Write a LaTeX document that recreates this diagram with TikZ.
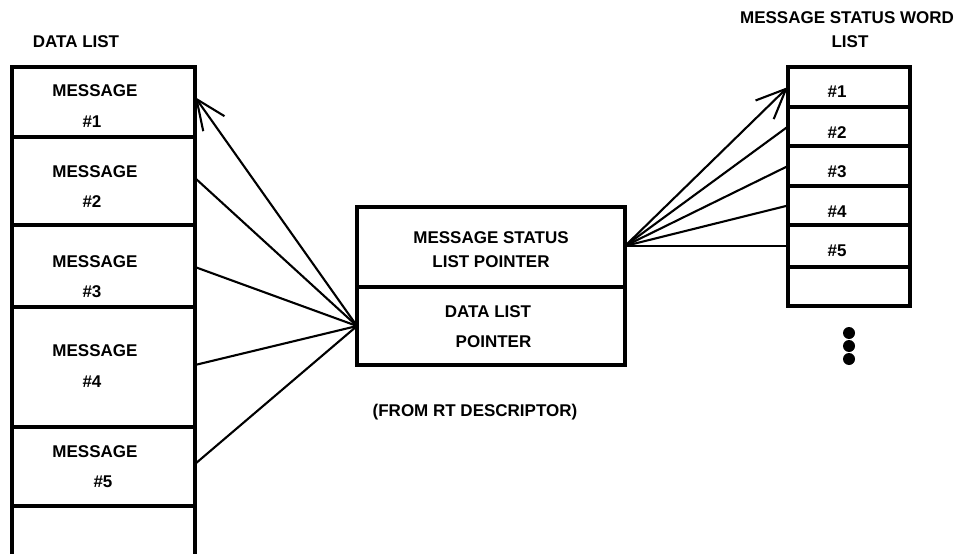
\documentclass[tikz,border=0pt]{standalone}
\usepackage{fontspec}
\setmainfont{Liberation Sans}
\usetikzlibrary{arrows.meta}
\begin{document}
\begin{tikzpicture}[x=1pt,y=-1pt,
  cell/.style={draw,line width=3.3pt,rectangle,inner sep=0pt,outer sep=0pt},
  lbl/.style={font=\fontsize{17}{20}\selectfont\bfseries,inner sep=0pt},
  conn/.style={line width=2.1pt},
  arr/.style={conn,-{Straight Barb[length=30pt,width=26pt]}},
  dot/.style={circle,fill=black,inner sep=0pt,minimum size=12pt}]
\useasboundingbox (0,0) rectangle (959,554);
\clip (0,0) rectangle (959,554);
% left data list
\node[lbl] (dltitle) at (76,42) {DATA LIST};
\node[cell,minimum width=183pt,minimum height=70pt] (c1) at (103.5,102) {};
\node[cell,minimum width=183pt,minimum height=88pt] (c2) at (103.5,181) {};
\node[cell,minimum width=183pt,minimum height=82pt] (c3) at (103.5,266) {};
\node[cell,minimum width=183pt,minimum height=120pt] (c4) at (103.5,367) {};
\node[cell,minimum width=183pt,minimum height=79pt] (c5) at (103.5,466.5) {};
\node[cell,minimum width=183pt,minimum height=64pt] (c6) at (103.5,538) {};
\node[lbl] (l1a) at (95,91) {MESSAGE};
\node[lbl] (l1b) at (92,122) {\#1};
\node[lbl] (l2a) at (95,172) {MESSAGE};
\node[lbl] (l2b) at (92,202) {\#2};
\node[lbl] (l3a) at (95,262) {MESSAGE};
\node[lbl] (l3b) at (92,292) {\#3};
\node[lbl] (l4a) at (95,351) {MESSAGE};
\node[lbl] (l4b) at (92,382) {\#4};
\node[lbl] (l5a) at (95,452) {MESSAGE};
\node[lbl] (l5b) at (103,482) {\#5};
% middle descriptor box
\node[cell,minimum width=268pt,minimum height=80pt] (mstop) at (491,247) {};
\node[cell,minimum width=268pt,minimum height=78pt] (mbot) at (491,326) {};
\node[lbl] (t1) at (491,238) {MESSAGE STATUS};
\node[lbl] (t2) at (491,262) {LIST POINTER};
\node[lbl] (t3) at (488,312) {DATA LIST};
\node[lbl] (t4) at (493.5,342) {POINTER};
\node[lbl] (t5) at (475,412) {(FROM RT DESCRIPTOR)};
% right status word list
\node[lbl] (swt1) at (847,18) {MESSAGE STATUS WORD};
\node[lbl] (swt2) at (850,42) {LIST};
\node[cell,minimum width=122pt,minimum height=40pt] (r1) at (849,87) {};
\node[cell,minimum width=122pt,minimum height=39pt] (r2) at (849,126.5) {};
\node[cell,minimum width=122pt,minimum height=40pt] (r3) at (849,166) {};
\node[cell,minimum width=122pt,minimum height=39pt] (r4) at (849,205.5) {};
\node[cell,minimum width=122pt,minimum height=42pt] (r5) at (849,246) {};
\node[cell,minimum width=122pt,minimum height=39pt] (r6) at (849,286.5) {};
\node[lbl] (n1) at (837,92) {\#1};
\node[lbl] (n2) at (837,133) {\#2};
\node[lbl] (n3) at (837,172) {\#3};
\node[lbl] (n4) at (837,212) {\#4};
\node[lbl] (n5) at (837,251) {\#5};
\node[dot] (d1) at (849,333) {};
\node[dot] (d2) at (849,346) {};
\node[dot] (d3) at (849,359) {};
% connectors
\draw[arr] (mbot.west) -- ([yshift=5pt]c1.east);
\draw[conn] (mbot.west) -- ([yshift=3pt]c2.east);
\draw[conn] (mbot.west) -- ([yshift=-1pt]c3.east);
\draw[conn] (mbot.west) -- ([yshift=2pt]c4.east);
\draw[conn] (mbot.west) -- ([yshift=2.5pt]c5.east);
\draw[arr] ([yshift=1pt]mstop.east) -- (r1.west);
\draw[conn] ([yshift=1pt]mstop.east) -- (r2.west);
\draw[conn] ([yshift=1pt]mstop.east) -- (r3.west);
\draw[conn] ([yshift=1pt]mstop.east) -- (r4.west);
\draw[conn] ([yshift=1pt]mstop.east) -- (r5.west);
\end{tikzpicture}
\end{document}
